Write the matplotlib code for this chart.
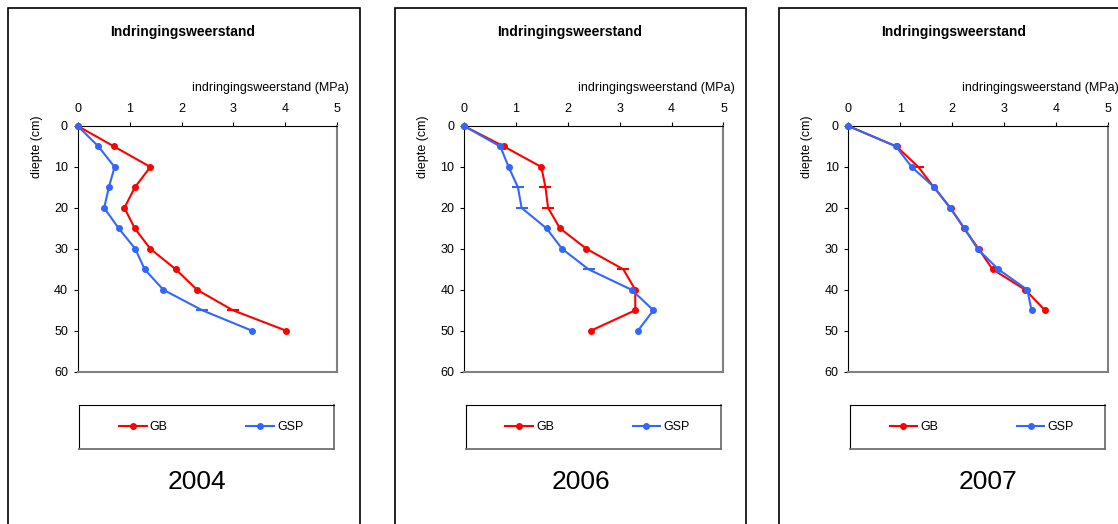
import matplotlib.pyplot as plt
from matplotlib.lines import Line2D
from matplotlib.patches import Rectangle

plt.rcParams['font.family'] = ['Liberation Sans', 'DejaVu Sans']

# depths (cm) and penetration resistance (MPa) per year
depth_04 = [0, 5, 10, 15, 20, 25, 30, 35, 40, 45, 50]
gb_04 = [0, 0.70, 1.40, 1.10, 0.90, 1.10, 1.40, 1.89, 2.30, 2.99, 4.02]
gsp_04 = [0, 0.40, 0.71, 0.60, 0.51, 0.79, 1.11, 1.29, 1.65, 2.40, 3.36]

depth_06 = [0, 5, 10, 15, 20, 25, 30, 35, 40, 45, 50]
gb_06 = [0, 0.77, 1.49, 1.57, 1.62, 1.85, 2.36, 3.07, 3.30, 3.30, 2.44]
gsp_06 = [0, 0.70, 0.86, 1.04, 1.11, 1.59, 1.89, 2.40, 3.23, 3.65, 3.35]

depth_07 = [0, 5, 10, 15, 20, 25, 30, 35, 40, 45]
gb_07 = [0, 0.93, 1.35, 1.65, 1.97, 2.23, 2.51, 2.78, 3.41, 3.79]
gsp_07 = [0, 0.92, 1.22, 1.66, 1.96, 2.24, 2.49, 2.89, 3.45, 3.53]

years = ['2004', '2006', '2007']
x_ticks = [0, 1, 2, 3, 4, 5]
y_ticks = [0, 10, 20, 30, 40, 50, 60]

panels = [
    (depth_04, gb_04, gsp_04, [9], [9]),
    (depth_06, gb_06, gsp_06, [3, 4, 7], [3, 4, 7]),
    (depth_07, gb_07, gsp_07, [2], []),
]

RED = '#ff0000'
BLUE = '#3366ff'

W, H = 1118, 524
fig = plt.figure(figsize=(W / 100, H / 100), dpi=100)

ax_lefts = [77.7, 464.0, 848.3]
ax_w = 259.5
ax_top, ax_bot = 126.0, 371.7


def fx(px):
    return px / W


def fy(py):
    return 1 - py / H


for i, (depth, gb, gsp, gb_dash, gsp_dash) in enumerate(panels):
    L = ax_lefts[i]

    # chart area border
    fig.patches.append(Rectangle((fx(L - 69.3), fy(H + 10)), fx(351.5), fy(8) - fy(H + 10),
                                 transform=fig.transFigure, fill=False,
                                 edgecolor='black', lw=1.2))

    ax = fig.add_axes([fx(L), fy(ax_bot), fx(ax_w), fy(ax_top) - fy(ax_bot)])
    for series, col, dash in [(gb, RED, gb_dash), (gsp, BLUE, gsp_dash)]:
        circ = [k for k in range(len(series)) if k not in dash]
        ax.plot(series, depth, color=col, lw=1.5, marker='o', ms=4,
                markevery=circ, clip_on=False, zorder=3)
        if dash:
            ax.plot(series, depth, color=col, ls='none', marker='_', ms=9,
                    mew=1.5, markevery=dash, clip_on=False, zorder=3)

    ax.set_xlim(0, 5)
    ax.set_ylim(60, 0)
    ax.set_xticks(x_ticks)
    ax.set_yticks(y_ticks)
    ax.xaxis.tick_top()
    ax.tick_params(axis='both', labelsize=9, length=3, width=0.8, direction='out')
    ax.tick_params(axis='x', pad=5)
    ax.tick_params(axis='y', pad=4)
    ax.spines['top'].set_color('black')
    ax.spines['left'].set_color('black')
    ax.spines['right'].set_color('#808080')
    ax.spines['bottom'].set_color('#808080')
    ax.spines['right'].set_linewidth(1.5)
    ax.spines['bottom'].set_linewidth(1.5)

    fig.text(fx(L + 105.3), fy(31.7), 'Indringingsweerstand', ha='center', va='center',
             fontsize=10, fontweight='bold')
    fig.text(fx(L + 270.6), fy(88.3), 'indringingsweerstand (MPa)', ha='right',
             va='center', fontsize=9)
    fig.text(fx(L - 41), fy(147), 'diepte (cm)', rotation=90, ha='center',
             va='center', fontsize=9)

    # legend box
    lax = fig.add_axes([fx(L + 1.6), fy(449.3), fx(255), fy(404.7) - fy(449.3)])
    lax.set_xticks([])
    lax.set_yticks([])
    for s in ['top', 'left']:
        lax.spines[s].set_color('black')
    for s in ['right', 'bottom']:
        lax.spines[s].set_color('#707070')
        lax.spines[s].set_linewidth(1.3)
    handles = [Line2D([], [], color=RED, lw=1.5, marker='o', ms=4),
               Line2D([], [], color=BLUE, lw=1.5, marker='o', ms=4)]
    lax.legend(handles, ['GB', 'GSP'], loc='center left',
               bbox_to_anchor=(39.7 / 255, 0.5), frameon=False, ncol=2,
               borderpad=0, borderaxespad=0, handlelength=2.2, handletextpad=0.25,
               columnspacing=6.3, fontsize=9, numpoints=1)

    year_off = [119, 117, 140][i]
    fig.text(fx(L + year_off), fy(481.7), years[i], ha='center', va='center',
             fontsize=19)

fig.savefig('out.png', dpi=100)
